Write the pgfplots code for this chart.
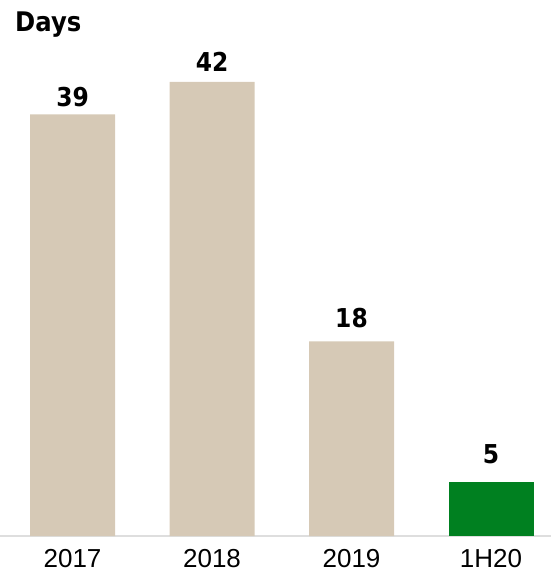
\documentclass[border=0pt]{standalone}
\usepackage{fontspec}
\setmainfont{Liberation Sans}
\newfontfamily\lblfont{DejaVu Sans}[FakeStretch=0.9]
\usepackage{pgfplots}
\usepackage{pgfplotstable}
\pgfplotsset{compat=1.18}

\definecolor{tan}{RGB}{214,201,182}
\definecolor{darkgreen}{RGB}{0,128,32}

% x = category position, y = days, ly = label baseline
\pgfplotstableread{
x y ly
0 39 39.69
1 42 42.92
2 18 19.24
3 5 6.75
}\daysdata

\begin{document}
\begin{tikzpicture}
  \begin{axis}[
    anchor=south west,
    scale only axis,
    width=551pt, height=536pt,
    xmin=-0.52, xmax=3.43,
    ymin=0, ymax=49.58,
    axis y line=none,
    axis x line=bottom,
    x axis line style={-, draw=black!13, line width=1.5pt},
    xtick={0,1,2,3},
    xticklabels={2017,2018,2019,1H20},
    major tick length=0pt,
    xticklabel style={font=\fontsize{26}{30}\selectfont, yshift=-10pt},
    clip=false,
  ]
    \addplot[ybar, bar width=85pt, bar shift=0pt, fill=tan, draw=none]
      table[x=x, y=y] {
        x y
        0 39
        1 42
        2 18
      };
    \addplot[ybar, bar width=85pt, bar shift=0pt, fill=darkgreen, draw=none]
      table[x=x, y=y] {
        x y
        3 5
      };
    % value labels
    \addplot[draw=none, mark=none, point meta=explicit symbolic,
      nodes near coords={\pgfplotspointmeta},
      every node near coord/.style={anchor=base, inner sep=0pt,
        font=\lblfont\bfseries\fontsize{26}{30}\selectfont, text=black}]
      table[x=x, y=ly, meta=y] {\daysdata};
  \end{axis}
  \node[anchor=base west, inner sep=0pt,
    font=\lblfont\bfseries\fontsize{27}{30}\selectfont] at (15pt,504pt) {Days};
  \pgfresetboundingbox
  \useasboundingbox (0,-41pt) rectangle (551pt,536pt);
\end{tikzpicture}
\end{document}
